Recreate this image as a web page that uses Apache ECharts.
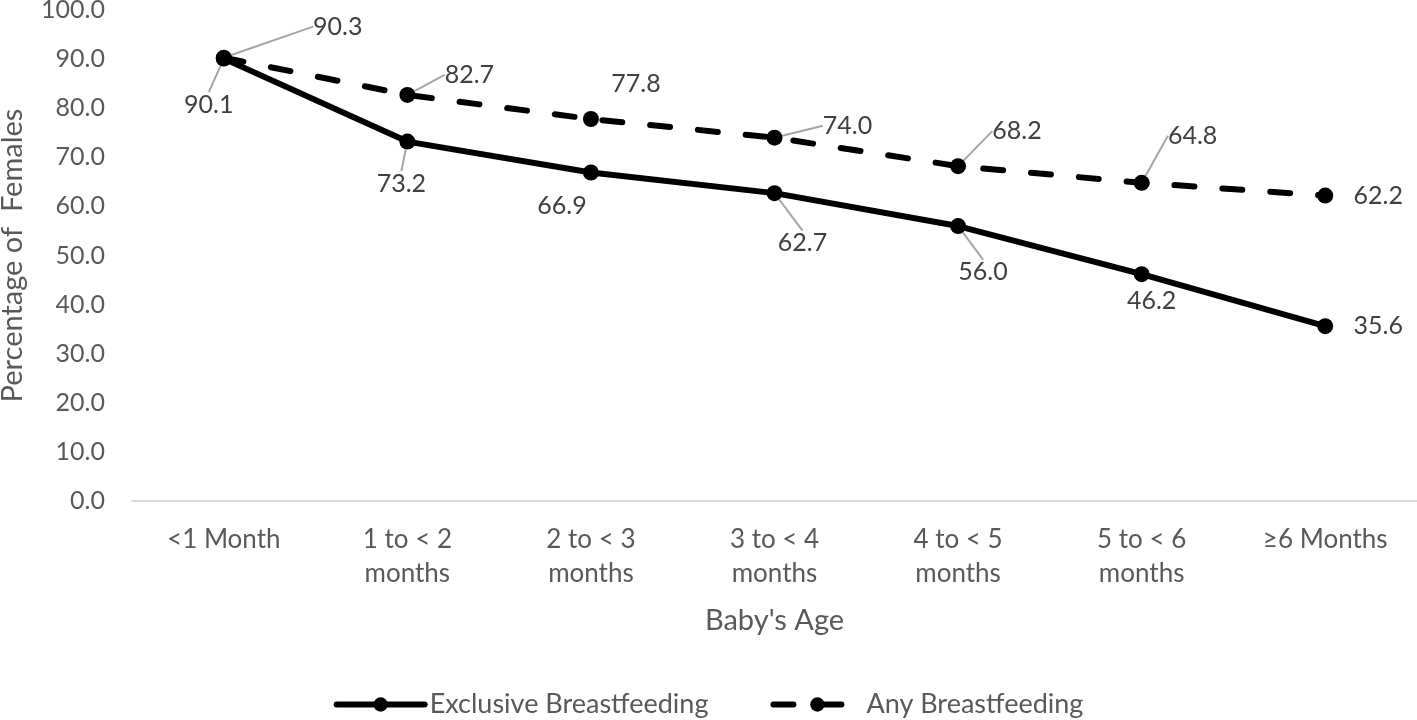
<!DOCTYPE html>
<html>
<head>
<meta charset="utf-8">
<script src="https://cdn.jsdelivr.net/npm/echarts@6/dist/echarts.min.js"></script>
<style>
html,body{margin:0;padding:0;background:#fff;}
#chart{width:1417px;height:720px;}
</style>
</head>
<body>
<div id="chart"></div>
<script>
const categories = ['<1 Month', '1 to < 2\nmonths', '2 to < 3\nmonths', '3 to < 4\nmonths', '4 to < 5\nmonths', '5 to < 6\nmonths', '≥6 Months'];
const exclusiveValues = [90.1, 73.2, 66.9, 62.7, 56.0, 46.2, 35.6];
const anyValues = [90.3, 82.7, 77.8, 74.0, 68.2, 64.8, 62.2];
const yTicks = [0, 10, 20, 30, 40, 50, 60, 70, 80, 90, 100];

// label placement (style): offsets from point, and whether a leader line is drawn
const exclusiveLabelOffsets = [[-15, 46], [-6, 42], [-29, 33], [28, 50], [25, 46], [10, 27], [53, 0]];
const exclusiveLeader = [true, true, false, true, true, false, false];
const anyLabelOffsets = [[114, -31], [62, -20], [45, -35], [73, -12], [59, -35], [51, -47], [53, 0]];
const anyLeader = [true, true, false, true, true, true, false];

const FONT = 'Lato, "Open Sans", sans-serif';

function buildData(values, leaders) {
  return values.map((v, i) => ({
    value: v,
    labelLine: { show: leaders[i] }
  }));
}

const chart = echarts.init(document.getElementById('chart'), null, { renderer: 'canvas' });
chart.setOption({
  animation: false,
  backgroundColor: '#ffffff',
  grid: { left: 132, right: 0, top: 10, bottom: 219, containLabel: false, outerBoundsMode: 'none' },
  xAxis: {
    type: 'category',
    data: categories,
    boundaryGap: true,
    axisLine: { show: true, lineStyle: { color: '#d9d9d9', width: 2 } },
    axisTick: { show: false },
    axisLabel: { color: '#595959', fontFamily: FONT, fontSize: 26, lineHeight: 34, margin: 22, interval: 0 },
    name: "Baby's Age",
    nameLocation: 'middle',
    nameGap: 105,
    nameTextStyle: { color: '#595959', fontFamily: FONT, fontSize: 29 }
  },
  yAxis: {
    type: 'value',
    min: yTicks[0],
    max: yTicks[yTicks.length - 1],
    interval: 10,
    axisLine: { show: false },
    axisTick: { show: false },
    splitLine: { show: false },
    axisLabel: { color: '#595959', fontFamily: FONT, fontSize: 25, margin: 27, formatter: v => v.toFixed(1) },
    name: 'Percentage of  Females',
    nameLocation: 'middle',
    nameGap: 105,
    nameTextStyle: { color: '#595959', fontFamily: FONT, fontSize: 29 }
  },
  legend: {
    top: 686,
    left: 'center',
    itemWidth: 88,
    itemHeight: 18,
    itemGap: 62,
    lineStyle: { width: 6 },
    textStyle: { color: '#595959', fontFamily: FONT, fontSize: 27 },
    data: ['Exclusive Breastfeeding', 'Any Breastfeeding']
  },
  series: [
    {
      name: 'Exclusive Breastfeeding',
      type: 'line',
      data: buildData(exclusiveValues, exclusiveLeader),
      symbol: 'circle',
      symbolSize: 16,
      itemStyle: { color: '#000000' },
      lineStyle: { color: '#000000', width: 6, cap: 'round' },
      label: {
        show: true,
        position: 'inside',
        color: '#404040',
        fontFamily: FONT,
        fontSize: 25,
        formatter: p => p.value.toFixed(1)
      },
      labelLine: { show: true, lineStyle: { color: '#a6a6a6', width: 2 } },
      labelLayout: p => ({ dx: exclusiveLabelOffsets[p.dataIndex][0], dy: exclusiveLabelOffsets[p.dataIndex][1] }),
      z: 3
    },
    {
      name: 'Any Breastfeeding',
      type: 'line',
      data: buildData(anyValues, anyLeader),
      symbol: 'circle',
      symbolSize: 16,
      itemStyle: { color: '#000000' },
      lineStyle: { color: '#000000', width: 6, type: [20, 28], cap: 'round' },
      label: {
        show: true,
        position: 'inside',
        color: '#404040',
        fontFamily: FONT,
        fontSize: 25,
        formatter: p => p.value.toFixed(1)
      },
      labelLine: { show: true, lineStyle: { color: '#a6a6a6', width: 2 } },
      labelLayout: p => ({ dx: anyLabelOffsets[p.dataIndex][0], dy: anyLabelOffsets[p.dataIndex][1] }),
      z: 2
    }
  ]
});
</script>
</body>
</html>
